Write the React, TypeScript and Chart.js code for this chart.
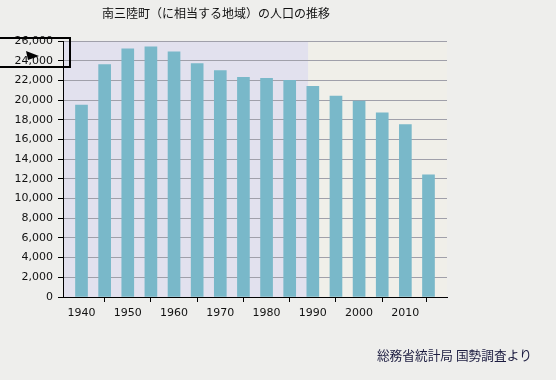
import React, { useEffect, useRef } from "react";
import { Chart, registerables } from "chart.js";

Chart.register(...registerables);

const years = [1940, 1945, 1950, 1955, 1960, 1965, 1970, 1975, 1980, 1985, 1990, 1995, 2000, 2005, 2010, 2015];
const population = [19500, 23600, 25200, 25400, 24900, 23700, 23000, 22300, 22200, 22000, 21400, 20400, 19900, 18700, 17500, 12400];
const xTicks = [1940, 1950, 1960, 1970, 1980, 1990, 2000, 2010];
const xMin = 1936;
const xMax = 2019;
const shadeEnd = 1989;
const titleText = "南三陸町（に相当する地域）の人口の推移";
const sourceText = "総務省統計局 国勢調査より";

const decorPlugin = {
  id: "decor",
  beforeDraw(chart: any) {
    const { ctx, chartArea, scales } = chart;
    ctx.save();
    ctx.fillStyle = "#eeeeec";
    ctx.fillRect(0, 0, chart.width, chart.height);
    const x = scales.x;
    const xs = x.getPixelForValue(xMin);
    const xm = x.getPixelForValue(shadeEnd);
    const xe = x.getPixelForValue(xMax);
    ctx.fillStyle = "#e2e1ee";
    ctx.fillRect(xs, chartArea.top, xm - xs, chartArea.bottom - chartArea.top);
    ctx.fillStyle = "#f0efe9";
    ctx.fillRect(xm, chartArea.top, xe - xm, chartArea.bottom - chartArea.top);
    ctx.restore();
  },
  afterDraw(chart: any) {
    const { ctx } = chart;
    ctx.save();
    ctx.font = "12px 'Noto Sans CJK JP'";
    ctx.fillStyle = "#111111";
    ctx.textAlign = "center";
    ctx.textBaseline = "middle";
    ctx.fillText(titleText, 216, 13);
    ctx.font = "12.7px 'Noto Sans CJK JP'";
    ctx.fillStyle = "#1c1c40";
    ctx.textAlign = "right";
    ctx.fillText(sourceText, 532, 355);
    ctx.strokeStyle = "#000000";
    ctx.lineWidth = 2;
    ctx.strokeRect(-2, 38, 72, 29);
    ctx.fillStyle = "#000000";
    ctx.beginPath();
    ctx.moveTo(26, 51);
    ctx.lineTo(39, 56);
    ctx.lineTo(28, 60);
    ctx.closePath();
    ctx.fill();
    ctx.restore();
  },
};

export default function App() {
  const ref = useRef<HTMLCanvasElement | null>(null);
  useEffect(() => {
    if (!ref.current) return;
    Chart.defaults.font.family = "'DejaVu Sans'";
    const chart = new Chart(ref.current, {
      type: "bar",
      data: {
        datasets: [
          {
            data: years.map((y, i) => ({ x: y, y: population[i] })),
            backgroundColor: "#79b8c9",
            borderWidth: 0,
            barThickness: 12,
          },
        ],
      },
      options: {
        animation: false,
        responsive: false,
        layout: { padding: { left: 0, right: 109, top: 41, bottom: 53 } },
        plugins: { legend: { display: false }, title: { display: false }, tooltip: { enabled: false } },
        scales: {
          x: {
            type: "linear",
            min: xMin,
            max: xMax,
            offset: false,
            afterBuildTicks: (scale: any) => {
              scale.ticks = [...xTicks, xMax].map((v) => ({ value: v }));
            },
            afterFit: (scale: any) => {
              scale.height = 30;
            },
            grid: { drawOnChartArea: false, tickColor: "#000", tickLength: 5, lineWidth: 1 },
            border: { display: true, color: "#000", width: 1 },
            ticks: {
              color: "#111",
              font: { size: 11 },
              padding: 5,
              maxRotation: 0,
              autoSkip: false,
              callback: (v: any) => (xTicks.includes(Number(v)) ? String(v) : ""),
            },
          },
          y: {
            min: 0,
            max: 26000,
            afterFit: (scale: any) => {
              scale.width = 63;
            },
            grid: { color: "#a0a0aa", tickColor: "#000", tickLength: 5, lineWidth: 1 },
            border: { display: true, color: "#000", width: 1 },
            ticks: {
              stepSize: 2000,
              color: "#111",
              font: { size: 11 },
              padding: 5,
              callback: (v: any) => Number(v).toLocaleString("en-US"),
            },
          },
        },
      },
      plugins: [decorPlugin],
    });
    return () => chart.destroy();
  }, []);
  return (
    <div style={{ position: "absolute", left: 0, top: 0, width: 556, height: 380 }}>
      <canvas ref={ref} width={556} height={380} style={{ display: "block" }} />
    </div>
  );
}
